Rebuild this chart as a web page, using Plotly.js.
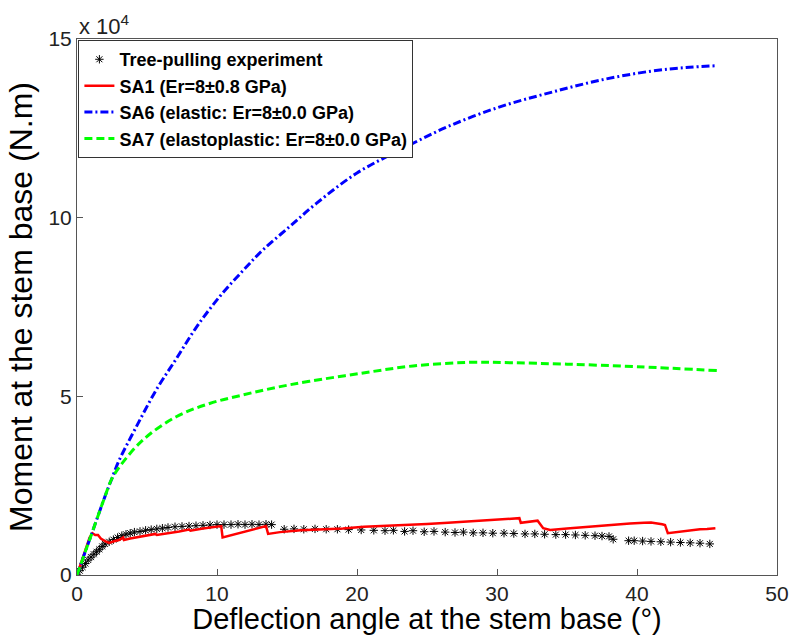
<!DOCTYPE html>
<html>
<head>
<meta charset="utf-8">
<script src="https://cdn.plot.ly/plotly-3.0.1.min.js"></script>
<style>html,body{margin:0;padding:0;background:#fff;}#plot{width:794px;height:635px;}</style>
</head>
<body>
<div id="plot"></div>
<script>
// Tree-pulling experiment (deflection angle in degrees, moment in N.m)
const expX = [0,0.2,0.4,0.6,0.8,1.0,1.2,1.4,1.6,1.8,2.0,2.3,2.6,2.9,3.2,3.5,3.8,4.1,4.5,4.9,5.3,5.7,6.1,6.5,7.0,7.5,8.0,8.5,9.0,9.5,10.0,10.5,11.0,11.5,12.0,12.5,13.0,13.5,13.9,
  14.8,15.5,16.2,17.0,17.8,18.6,19.4,20.3,21.2,22.0,22.6,23.4,24.0,24.8,25.5,26.3,27.0,27.6,28.3,29.0,29.7,30.5,31.2,32.0,32.7,33.4,34.2,34.9,35.6,36.3,37.0,37.5,38.0,38.3,
  39.4,39.8,40.4,41.0,41.7,42.4,43.1,43.8,44.5,45.2];
const expY = [0,1200,2200,3200,4200,5000,5800,6500,7200,8000,8700,9300,9900,10500,11000,11400,11700,12000,12200,12500,12700,12900,13100,13300,13500,13600,13700,13800,13900,14000,14100,14100,14100,14200,14100,14200,14100,14200,14100,
  12800,12900,12800,12900,12800,12800,12700,12600,12500,12400,12500,12200,12400,12100,12200,12000,11900,12000,11800,11800,11700,11700,11600,11500,11500,11400,11300,11300,11200,11100,11000,10900,10800,10000,
  9600,9600,9500,9400,9300,9200,9100,9000,8900,8700];

// SA1 (Er=8±0.8 GPa)
const sa1X = [0,0.3,0.6,0.9,1.1,1.3,1.5,1.7,2.0,2.3,2.7,3.0,3.3,3.35,3.8,4.5,5.2,5.6,5.7,6.5,7.3,8.0,8.1,9.0,9.8,10.3,10.4,11.5,12.5,13.5,13.65,14.5,16.0,17.5,19.0,20.5,22.0,23.5,25.0,26.5,28.0,29.5,31.0,31.6,31.7,32.5,32.9,33.3,33.8,35.0,36.5,38.0,39.5,40.5,41.0,41.8,42.0,42.2,43.5,44.5,45.0,45.6];
const sa1Y = [0,3500,7500,10500,11700,11200,11200,10200,9500,9000,9500,9800,10500,9800,10200,10700,11100,11500,11200,11800,12200,12700,12400,13000,13500,13700,10500,11700,12700,13700,11500,12000,12500,12700,13000,13500,13700,14000,14300,14600,15000,15400,15800,15900,14600,14900,15200,13100,12600,13000,13500,14000,14400,14600,14700,14200,14000,11700,12400,12800,12900,13100];

// SA6 (elastic)
const sa6X = [0,1,2,2.45,3,4.24,5.66,7.09,8.52,10.19,11.86,13.29,15.19,17.1,20,23.1,26.5,30.2,33.8,37.4,41,43.5,45.6];
const sa6Y = [0,11000,22000,26600,32000,41500,51800,60500,69300,77900,85200,91000,97500,104000,112500,119000,125500,131000,135000,138500,141000,142000,142500];

// SA7 (elastoplastic)
const sa7X = [0,1,2,2.45,3.04,4.71,7.09,9.47,11.86,14.24,16.6,20.2,24,27.9,31,35,40,45.7];
const sa7Y = [0,11000,22000,26600,30300,37800,44300,48000,50400,52500,54200,56400,58500,59500,59400,59000,58300,57200];

const names = ['Tree-pulling experiment','SA1 (Er=8\u00b10.8 GPa)','SA6 (elastic: Er=8\u00b10.0 GPa)','SA7 (elastoplastic: Er=8\u00b10.0 GPa)'];
const yTickVals = [0,50000,100000,150000];
const yTickText = ['0','5','10','15'];
const xTickVals = [0,10,20,30,40,50];

const FONT = 'Liberation Sans, Arial, sans-serif';

const traces = [
  {x: expX, y: expY, name: names[0], mode: 'markers', type: 'scatter',
   marker: {symbol: 'asterisk-open', size: 7, color: '#000', line: {color: '#000', width: 1}}},
  {x: sa1X, y: sa1Y, name: names[1], mode: 'lines', type: 'scatter',
   line: {color: '#ff0000', width: 2.5}},
  {x: sa6X, y: sa6Y, name: names[2], mode: 'lines', type: 'scatter',
   line: {color: '#0000ff', width: 3, dash: '8px,3px,2px,3px', shape: 'spline'}},
  {x: sa7X, y: sa7Y, name: names[3], mode: 'lines', type: 'scatter',
   line: {color: '#00ff00', width: 3, dash: '8px,4px', shape: 'spline'}}
];

const axisCommon = {
  showline: true, linecolor: '#555', linewidth: 1, mirror: true,
  ticks: 'inside', ticklen: 6, tickcolor: '#555', showgrid: false, zeroline: false,
  tickfont: {family: FONT, size: 21, color: '#222'}
};

const layout = {
  width: 794, height: 635,
  margin: {l: 77, r: 17, t: 39, b: 60},
  paper_bgcolor: '#fff', plot_bgcolor: '#fff',
  showlegend: true,
  legend: {x: 0.002, y: 0.998, xanchor: 'left', yanchor: 'top', bgcolor: '#fff',
           bordercolor: '#333', borderwidth: 1, itemwidth: 30, tracegroupgap: 0,
           font: {family: FONT, size: 18, color: '#000', weight: 'bold'}},
  xaxis: Object.assign({}, axisCommon, {range: [0, 50], tickvals: xTickVals,
    title: {text: 'Deflection angle at the stem base (\u00b0)', standoff: 2,
            font: {family: FONT, size: 29, color: '#000'}}}),
  yaxis: Object.assign({}, axisCommon, {range: [0, 150000], tickvals: yTickVals, ticktext: yTickText,
    title: {text: 'Moment at the stem base (N.m)', standoff: 6,
            font: {family: FONT, size: 32, color: '#000'}}}),
  annotations: [{xref: 'paper', yref: 'paper', x: 0, y: 1, xanchor: 'left', yanchor: 'bottom',
    text: 'x 10<sup>4</sup>', showarrow: false, yshift: -2,
    font: {family: FONT, size: 22, color: '#222'}}]
};

Plotly.newPlot('plot', traces, layout, {displayModeBar: false, staticPlot: true});
</script>
</body>
</html>
